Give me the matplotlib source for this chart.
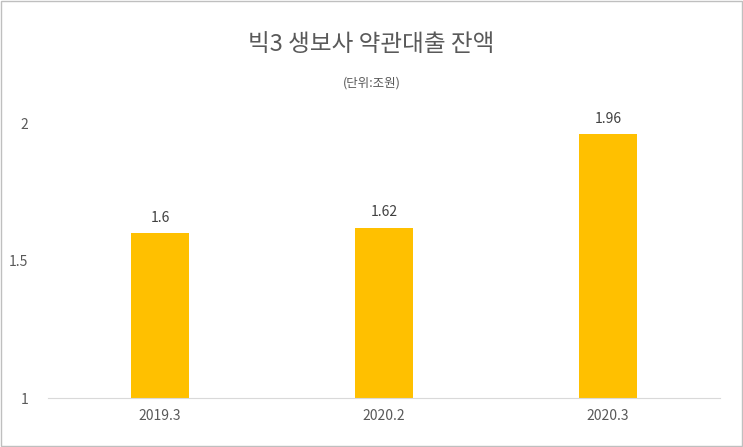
import matplotlib.pyplot as plt
from matplotlib.patches import Rectangle

plt.rcParams["font.family"] = ["Noto Sans CJK KR", "Noto Sans CJK JP", "Noto Sans CJK SC",
                               "Noto Sans CJK TC", "DejaVu Sans"]

categories = ["2019.3", "2020.2", "2020.3"]
values = [1.6, 1.62, 1.96]
yticks = [1, 1.5, 2]
ytick_labels = ["1", "1.5", "2"]

fig = plt.figure(figsize=(7.43, 4.47), dpi=100)
ax = fig.add_axes([0.0646, 0.1096, 0.9044, 0.6152])

x = range(len(categories))
ax.bar(x, [v - 1 for v in values], bottom=1, width=0.26, color="#FFC000")
for i, v in zip(x, values):
    ax.text(i, v + 0.03, f"{v:g}", ha="center", va="bottom", fontsize=10, color="#404040")

ax.set_xlim(-0.5, 2.5)
ax.set_ylim(1, 2)
ax.set_xticks(list(x))
ax.set_xticklabels(categories, fontsize=10, color="#595959")
ax.set_yticks(yticks)
ax.set_yticklabels(ytick_labels, fontsize=10, color="#595959")
ax.tick_params(length=0, pad=8)
ax.tick_params(axis="y", pad=14)
for s in ["top", "right", "left"]:
    ax.spines[s].set_visible(False)
ax.spines["bottom"].set_color("#D9D9D9")

fig.text(0.5, 0.90, "빅3 생보사 약관대출 잔액", ha="center", va="center", fontsize=17, color="#595959")
fig.text(0.5, 0.815, "(단위:조원)", ha="center", va="center", fontsize=9, color="#595959")
fig.patches.append(Rectangle((0.002, 0.002), 0.996, 0.996, transform=fig.transFigure,
                             fill=False, edgecolor="#BFBFBF", linewidth=1))

fig.savefig("out.png", dpi=100)
